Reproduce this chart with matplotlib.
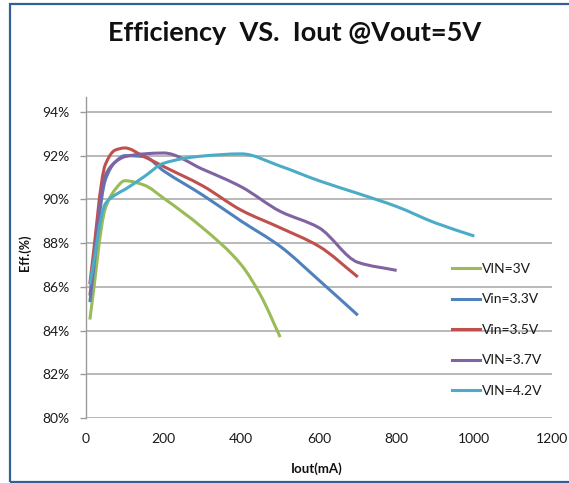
import numpy as np
import matplotlib
matplotlib.use("Agg")
import matplotlib.pyplot as plt
from matplotlib.path import Path
from matplotlib.patches import PathPatch, Rectangle
from matplotlib.lines import Line2D

plt.rcParams['font.family'] = ['Lato', 'DejaVu Sans']

# ---- data (Iout in mA, efficiency in %) ----
labels = ["VIN=3V", "Vin=3.3V", "Vin=3.5V", "VIN=3.7V", "VIN=4.2V"]
colors = ["#9BBB59", "#4F81BD", "#C0504D", "#8064A2", "#4BACC6"]

iout_30 = [10, 50, 75, 100, 150, 200, 300, 400, 450, 500]
eff_30 = [84.5, 89.6, 90.45, 90.85, 90.65, 90.05, 88.7, 87.0, 85.6, 83.7]

iout_33 = [10, 50, 75, 100, 150, 200, 300, 400, 500, 600, 700]
eff_33 = [85.3, 90.9, 91.7, 92.0, 91.95, 91.3, 90.2, 89.0, 87.85, 86.3, 84.7]

iout_35 = [10, 50, 75, 100, 150, 200, 300, 400, 500, 600, 700]
eff_35 = [86.15, 91.6, 92.25, 92.35, 91.95, 91.5, 90.62, 89.5, 88.7, 87.85, 86.45]

iout_37 = [10, 50, 75, 100, 150, 200, 300, 400, 500, 600, 700, 800]
eff_37 = [85.6, 91.1, 91.7, 91.95, 92.08, 92.12, 91.38, 90.57, 89.45, 88.7, 87.12, 86.75]

iout_42 = [10, 50, 75, 100, 150, 200, 300, 400, 500, 600, 700, 800, 900, 1000]
eff_42 = [86.1, 89.8, 90.2, 90.45, 91.04, 91.65, 91.98, 92.08, 91.52, 90.85, 90.27, 89.67, 88.92, 88.32]

series_x = [iout_30, iout_33, iout_35, iout_37, iout_42]
series_y = [eff_30, eff_33, eff_35, eff_37, eff_42]

x_ticks = [0, 200, 400, 600, 800, 1000, 1200]
y_ticks = [80, 82, 84, 86, 88, 90, 92, 94]
y_ticklabels = ["80%", "82%", "84%", "86%", "88%", "90%", "92%", "94%"]


def smooth_path(x, y):
    """Smoothed line drawn as cubic Bezier segments through the data points
    (shape-preserving Hermite tangents)."""
    x = np.asarray(x, float)
    y = np.asarray(y, float)
    n = len(x)
    h = np.diff(x)
    d = np.diff(y) / h
    m = np.zeros(n)
    m[0], m[-1] = d[0], d[-1]
    for i in range(1, n - 1):
        if d[i - 1] * d[i] > 0:
            w1 = 2 * h[i] + h[i - 1]
            w2 = h[i] + 2 * h[i - 1]
            m[i] = (w1 + w2) / (w1 / d[i - 1] + w2 / d[i])
    verts = [(x[0], y[0])]
    codes = [Path.MOVETO]
    for i in range(n - 1):
        verts += [(x[i] + h[i] / 3, y[i] + m[i] * h[i] / 3),
                  (x[i + 1] - h[i] / 3, y[i + 1] - m[i + 1] * h[i] / 3),
                  (x[i + 1], y[i + 1])]
        codes += [Path.CURVE4] * 3
    return Path(verts, codes)


W, H = 569, 483
fig = plt.figure(figsize=(W / 100, H / 100), dpi=100)

# outer chart border
fig.patches.append(Rectangle((10 / W, 1.5 / H), 1.2, (481.5 - 4) / H,
                             transform=fig.transFigure, fill=False,
                             edgecolor="#365F97", lw=1.6, zorder=0))

ax = fig.add_axes([86 / W, 65 / H, 466 / W, (418 - 97) / H])
ax.set_xlim(0, 1200)
ax.set_ylim(80, 94.68)

for xs, ys, c in zip(series_x, series_y, colors):
    ax.add_patch(PathPatch(smooth_path(xs, ys), fill=False, edgecolor=c,
                           lw=2.2, capstyle="butt", joinstyle="round", zorder=3))

ax.set_xticks(x_ticks)
ax.set_xticklabels([str(v) for v in x_ticks])
ax.set_yticks(y_ticks)
ax.set_yticklabels(y_ticklabels)
ax.tick_params(axis="x", length=0, pad=11, labelsize=10, labelcolor="#1a1a1a")
ax.tick_params(axis="y", length=4.3, width=1, color="#9a9a9a", pad=7.5,
               labelsize=10, labelcolor="#1a1a1a")
ax.grid(axis="y", color="#a6a6a6", lw=1.1)
ax.set_axisbelow(True)
for s in ["top", "right", "bottom"]:
    ax.spines[s].set_visible(False)
ax.spines["left"].set_color("#9a9a9a")
ax.spines["left"].set_linewidth(1)

fig.text(295 / W, 1 - 33 / H, "Efficiency  VS.  Iout @Vout=5V", ha="center",
         va="center", fontsize=19.5, fontweight="bold", color="#111111")
fig.text(25 / W, 1 - 253 / H, "Eff.(%)", rotation=90, ha="center", va="center",
         fontsize=9, fontweight="bold", color="#111111")
fig.text(317 / W, 1 - 469 / H, "Iout(mA)", ha="center", va="center",
         fontsize=9.5, fontweight="bold", color="#111111")

handles = [Line2D([], [], color=c, lw=2.2) for c in colors]
fig.legend(handles, labels, loc="upper left",
           bbox_to_anchor=(452 / W, 1 - 263 / H), frameon=False, borderpad=0,
           borderaxespad=0, handlelength=2.0, handletextpad=0.15,
           labelspacing=1.33, fontsize=10, labelcolor="#1a1a1a")

fig.savefig("out.png", dpi=100)
